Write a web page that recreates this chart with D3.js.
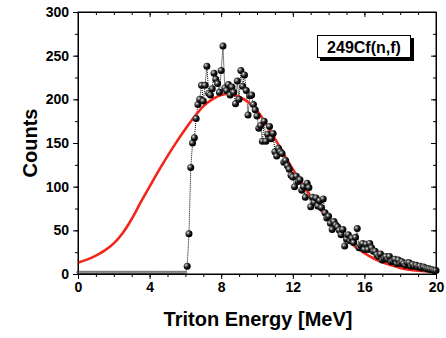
<!DOCTYPE html>
<html>
<head>
<meta charset="utf-8">
<script src="https://cdn.jsdelivr.net/npm/d3@7"></script>
<style>
	body { margin: 0; background: #fff; }
	text { font-family: "Liberation Sans", Arial, sans-serif; font-weight: bold; }
	.axis path, .axis line { stroke: #000; stroke-width: 1; }
	.axis text { font-size: 14px; fill: #000; }
</style>
</head>
<body>
<script>
// measured spectrum: zero counts below 6 MeV, then 6.1 .. 20.0 MeV every 0.1 MeV
var zeroEnergies = d3.range(0, 61).map(i => i / 10);
var energies = d3.range(61, 201).map(i => i / 10);
var counts = [
	9, 46, 122, 150, 156, 178, 194, 200, 216, 198,
	216, 238, 207, 205, 212, 230, 223, 218, 208, 233,
	261, 213, 210, 217, 205, 214, 208, 195, 221, 200,
	233, 215, 228, 210, 182, 204, 205, 194, 188, 181,
	167, 170, 152, 175, 152, 160, 169, 155, 161, 140,
	135, 144, 140, 138, 128, 130, 124, 120, 113, 111,
	100, 112, 106, 108, 96, 100, 88, 104, 99, 77,
	88, 82, 87, 78, 84, 76, 86, 70, 64, 66,
	58, 51, 60, 56, 54, 50, 45, 51, 32, 40,
	45, 38, 41, 36, 42, 52, 30, 33, 35, 28,
	34, 28, 35, 30, 26, 26, 22, 20, 23, 16,
	18, 20, 17, 20, 14, 15, 17, 12, 16, 12,
	14, 12, 10, 13, 13, 9, 11, 9, 10, 8,
	9, 7, 8, 7, 6, 6, 5, 5, 4, 4
];

// fitted curve (red), read every 0.5 MeV
var fitEnergies = d3.range(0, 41).map(i => i / 2);
var fitCounts = [
	13, 16.5, 21, 27, 35, 47, 63, 82, 100, 118,
	135, 151, 166, 180, 192, 200, 205, 206, 203, 197,
	187, 172, 155, 137, 120, 104, 89, 75, 62, 50,
	40, 31, 24, 18, 13.5, 10, 7, 5, 3.8, 3, 2.5
];

var xMajor = [0, 4, 8, 12, 16, 20];
var xMinor = d3.range(0, 21);
var yMajor = [0, 50, 100, 150, 200, 250, 300];
var yMinor = d3.range(0, 301, 25);
var legendLabel = "249Cf(n,f)";

var w = 446, h = 338;
var pl = 78, pr = 436, pt = 12, pb = 274;

var x = d3.scaleLinear().domain([0, 20]).range([pl, pr]);
var y = d3.scaleLinear().domain([0, 300]).range([pb, pt]);

var svg = d3.select("body").append("svg")
	.attr("width", w)
	.attr("height", h);

// sphere marker shading
var grad = svg.append("defs").append("radialGradient")
	.attr("id", "ball")
	.attr("cx", "35%").attr("cy", "35%").attr("r", "65%");
grad.append("stop").attr("offset", "0%").attr("stop-color", "#f0f0f0");
grad.append("stop").attr("offset", "25%").attr("stop-color", "#777");
grad.append("stop").attr("offset", "60%").attr("stop-color", "#111");
grad.append("stop").attr("offset", "100%").attr("stop-color", "#000");

//Minor ticks
svg.append("g").attr("class", "axis")
	.attr("transform", "translate(0," + pb + ")")
	.call(d3.axisBottom(x).tickValues(xMinor).tickSize(3).tickFormat(""))
	.select(".domain").remove();
svg.append("g").attr("class", "axis")
	.attr("transform", "translate(0," + pt + ")")
	.call(d3.axisTop(x).tickValues(xMinor).tickSize(-3).tickFormat(""))
	.select(".domain").remove();
svg.append("g").attr("class", "axis")
	.attr("transform", "translate(" + pl + ",0)")
	.call(d3.axisLeft(y).tickValues(yMinor).tickSize(3).tickFormat(""))
	.select(".domain").remove();
svg.append("g").attr("class", "axis")
	.attr("transform", "translate(" + pr + ",0)")
	.call(d3.axisRight(y).tickValues(yMinor).tickSize(-3).tickFormat(""))
	.select(".domain").remove();

//Major ticks + labels
svg.append("g").attr("class", "axis")
	.attr("transform", "translate(0," + pb + ")")
	.call(d3.axisBottom(x).tickValues(xMajor).tickSizeInner(5).tickSizeOuter(0).tickPadding(3));
svg.append("g").attr("class", "axis")
	.attr("transform", "translate(0," + pt + ")")
	.call(d3.axisTop(x).tickValues(xMajor).tickSizeInner(-5).tickSizeOuter(0).tickFormat(""));
svg.append("g").attr("class", "axis")
	.attr("transform", "translate(" + pl + ",0)")
	.call(d3.axisLeft(y).tickValues(yMajor).tickSizeInner(5).tickSizeOuter(0).tickPadding(4));
svg.append("g").attr("class", "axis")
	.attr("transform", "translate(" + pr + ",0)")
	.call(d3.axisRight(y).tickValues(yMajor).tickSizeInner(-5).tickSizeOuter(0).tickFormat(""));

// data, dotted connection
var pts = zeroEnergies.map(e => [e, 0]).concat(energies.map((e, i) => [e, counts[i]]));
svg.append("path")
	.datum(pts)
	.attr("fill", "none")
	.attr("stroke", "#000")
	.attr("stroke-width", 1)
	.attr("stroke-dasharray", "1,1")
	.attr("d", d3.line().x(d => x(d[0])).y(d => y(d[1])));

// zero points, small
svg.selectAll("circle.zero")
	.data(zeroEnergies)
	.enter().append("circle")
	.attr("class", "zero")
	.attr("cx", d => x(d))
	.attr("cy", y(0) - 1.5)
	.attr("r", 1.4)
	.attr("fill", "#aaa")
	.attr("stroke", "#444")
	.attr("stroke-width", 0.5);

// fit curve
svg.append("path")
	.datum(fitEnergies.map((e, i) => [e, fitCounts[i]]))
	.attr("fill", "none")
	.attr("stroke", "#f2261a")
	.attr("stroke-width", 2.6)
	.attr("d", d3.line().curve(d3.curveCatmullRom).x(d => x(d[0])).y(d => y(d[1])));

// measured points
svg.selectAll("circle.data")
	.data(energies)
	.enter().append("circle")
	.attr("class", "data")
	.attr("cx", d => x(d))
	.attr("cy", (d, i) => y(counts[i]))
	.attr("r", 3.5)
	.attr("fill", "url(#ball)");

// frame
svg.append("rect")
	.attr("x", pl).attr("y", pt)
	.attr("width", pr - pl).attr("height", pb - pt)
	.attr("fill", "none").attr("stroke", "#000").attr("stroke-width", 1);

// legend box with shadow
svg.append("rect")
	.attr("x", 320).attr("y", 38).attr("width", 94).attr("height", 23)
	.attr("fill", "#000");
svg.append("rect")
	.attr("x", 317.5).attr("y", 35.5).attr("width", 93).attr("height", 22)
	.attr("fill", "#fff").attr("stroke", "#000").attr("stroke-width", 1);
svg.append("text")
	.text(legendLabel)
	.attr("x", 364).attr("y", 52.5)
	.attr("text-anchor", "middle")
	.attr("font-size", "16px");

// axis titles
svg.append("text")
	.text("Triton Energy [MeV]")
	.attr("x", (pl + pr) / 2 + 1).attr("y", 326)
	.attr("text-anchor", "middle")
	.attr("font-size", "20px");
svg.append("text")
	.text("Counts")
	.attr("transform", "rotate(-90)")
	.attr("x", -(pt + pb) / 2).attr("y", 37)
	.attr("text-anchor", "middle")
	.attr("font-size", "20px");
</script>
</body>
</html>
